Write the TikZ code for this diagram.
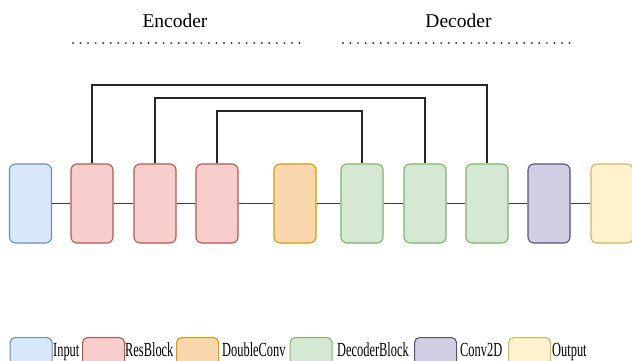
\documentclass[tikz,border=0pt]{standalone}
\usepackage{fontspec}
\setmainfont{Liberation Serif}
\usepackage{graphicx}
\usetikzlibrary{calc}

% draw.io style palette
\definecolor{inFill}{HTML}{DAE8FC}\definecolor{inLine}{HTML}{6C8EBF}
\definecolor{resFill}{HTML}{F8CECC}\definecolor{resLine}{HTML}{B85450}
\definecolor{dcFill}{HTML}{FAD7AC}\definecolor{dcLine}{HTML}{D79B00}
\definecolor{decFill}{HTML}{D5E8D4}\definecolor{decLine}{HTML}{82B366}
\definecolor{cvFill}{HTML}{D0CEE2}\definecolor{cvLine}{HTML}{56517E}
\definecolor{outFill}{HTML}{FFF2CC}\definecolor{outLine}{HTML}{D6B656}
\definecolor{wire}{HTML}{3A3A3A}

\newcommand{\legendtext}[1]{\scalebox{0.62}[1]{#1}}

\tikzset{
  block/.style={draw, rounded corners=6pt, line width=1.1pt, inner sep=0pt,
    minimum width=42pt, minimum height=79pt},
  keybox/.style={draw, rounded corners=5pt, line width=1.1pt, inner sep=0pt,
    minimum width=42pt, minimum height=40pt, anchor=north west},
  inputblk/.style={fill=inFill, draw=inLine},
  resblk/.style={fill=resFill, draw=resLine},
  dcblk/.style={fill=dcFill, draw=dcLine},
  decblk/.style={fill=decFill, draw=decLine},
  cvblk/.style={fill=cvFill, draw=cvLine},
  outblk/.style={fill=outFill, draw=outLine},
  wireline/.style={draw=wire, line width=1.4pt},
  skipline/.style={draw=black!85, line width=1.2pt},
  dotrow/.style={line width=2.2pt, line cap=round, dash pattern=on 0pt off 7.55pt, black!75},
  title/.style={font=\fontsize{19.5}{22}\selectfont, anchor=base, inner sep=0pt},
  keylabel/.style={font=\fontsize{20}{22}\selectfont, anchor=base west, inner sep=0pt},
}

\begin{document}
\begin{tikzpicture}[x=1pt, y=-1pt]
  \useasboundingbox (0,0) rectangle (632,360);

  % section titles
  \node[title] (enc) at (175,27) {Encoder};
  \node[title] (dec) at (458.5,27) {Decoder};
  \draw[dotrow] (73,43) -- (301,43);
  \draw[dotrow] (343,43) -- (571,43);

  % main pipeline
  \node[block, inputblk] (in) at (30.5,203.5) {};
  \node[block, resblk]   (r1) at (92,203.5) {};
  \node[block, resblk]   (r2) at (155,203.5) {};
  \node[block, resblk]   (r3) at (217,203.5) {};
  \node[block, dcblk]    (dc) at (295,203.5) {};
  \node[block, decblk]   (d1) at (362,203.5) {};
  \node[block, decblk]   (d2) at (425,203.5) {};
  \node[block, decblk]   (d3) at (487,203.5) {};
  \node[block, cvblk]    (cv) at (549,203.5) {};
  \node[block, outblk]   (out) at (612,203.5) {};

  \foreach \a/\b in {in/r1, r1/r2, r2/r3, r3/dc, dc/d1, d1/d2, d2/d3, d3/cv, cv/out}
    \draw[wireline] (\a.east) -- (\b.west);

  % skip connections
  \coordinate (lvlA) at (0,85);
  \coordinate (lvlB) at (0,98);
  \coordinate (lvlC) at (0,111);
  \draw[skipline] (r1.north) -- (r1.north |- lvlA) -| (d3.north);
  \draw[skipline] (r2.north) -- (r2.north |- lvlB) -| (d2.north);
  \draw[skipline] (r3.north) -- (r3.north |- lvlC) -| (d1.north);

  % legend
  \node[keybox, inputblk] (k1) at (9.5,337) {};
  \node[keylabel] (t1) at (53,356) {\legendtext{Input}};
  \node[keybox, resblk] (k2) at (82,337) {};
  \node[keylabel] (t2) at (125,356) {\legendtext{ResBlock}};
  \node[keybox, dcblk] (k3) at (176,337) {};
  \node[keylabel] (t3) at (222,356) {\legendtext{DoubleConv}};
  \node[keybox, decblk] (k4) at (289.5,337) {};
  \node[keylabel] (t4) at (337,356) {\legendtext{DecoderBlock}};
  \node[keybox, cvblk] (k5) at (414,337) {};
  \node[keylabel] (t5) at (460,356) {\legendtext{Conv2D}};
  \node[keybox, outblk] (k6) at (508,337) {};
  \node[keylabel] (t6) at (552,356) {\legendtext{Output}};
\end{tikzpicture}
\end{document}
